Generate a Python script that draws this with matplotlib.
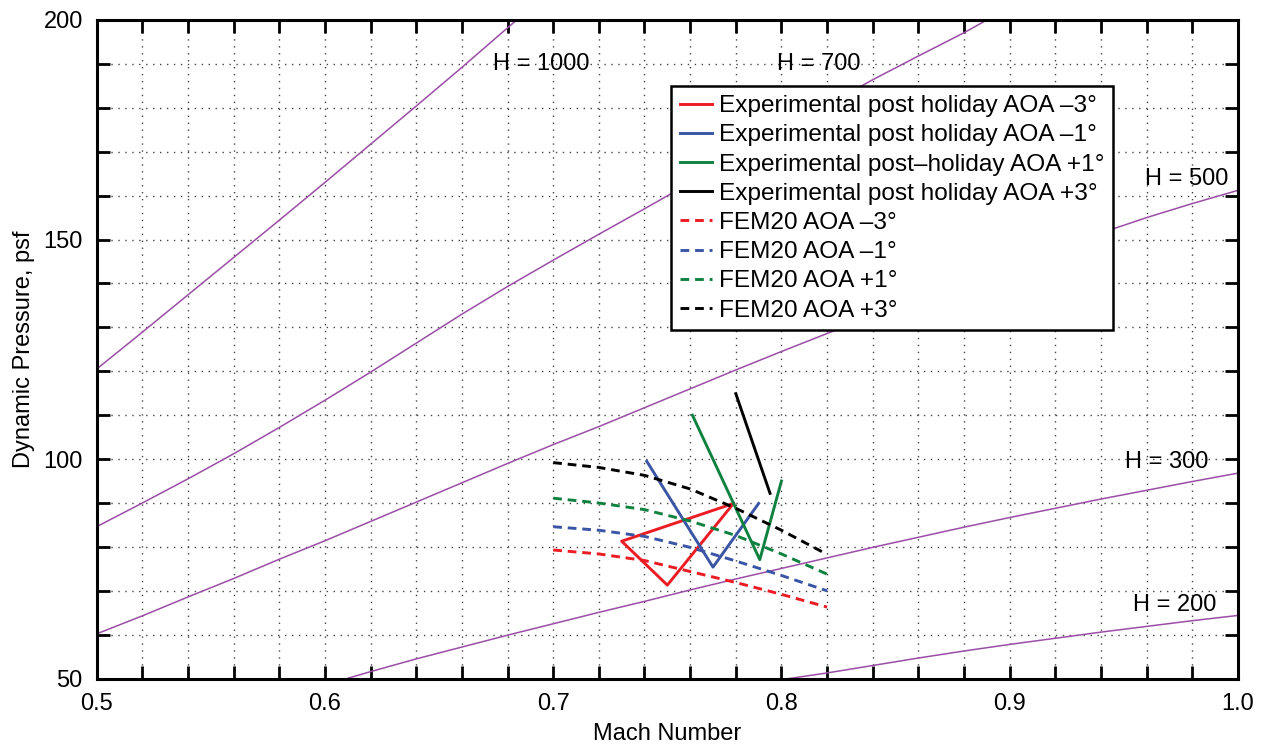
import numpy as np
import matplotlib
matplotlib.use("Agg")
import matplotlib.pyplot as plt

plt.rcParams['font.family'] = ['Liberation Sans', 'DejaVu Sans']

# constant-H reference lines (Mach, q)
h1000_m = [0.50, 0.52, 0.54, 0.56, 0.58, 0.60, 0.62, 0.64, 0.66, 0.68, 0.684]
h1000_q = [120.5, 128.9, 137.4, 145.9, 154.4, 163.0, 171.7, 180.4, 189.2, 198.2, 200.0]

h700_m = [0.50, 0.52, 0.54, 0.56, 0.58, 0.60, 0.62, 0.64, 0.66, 0.68, 0.70,
          0.72, 0.74, 0.76, 0.78, 0.80, 0.82, 0.84, 0.86, 0.88, 0.89]
h700_q = [84.6, 90.0, 95.5, 101.2, 107.2, 113.4, 119.8, 126.4, 133.0, 139.3, 145.3,
          151.2, 157.0, 162.9, 168.8, 174.7, 180.6, 186.4, 191.8, 197.1, 200.0]

h500_m = [0.50, 0.52, 0.54, 0.56, 0.58, 0.60, 0.62, 0.64, 0.66, 0.68, 0.70, 0.72, 0.74,
          0.76, 0.78, 0.80, 0.82, 0.84, 0.86, 0.88, 0.90, 0.92, 0.94, 0.96, 0.98, 1.00]
h500_q = [60.2, 64.3, 68.6, 72.8, 77.2, 81.4, 85.8, 90.2, 94.6, 99.0, 103.3, 107.4, 111.7,
          116.0, 120.3, 124.5, 128.6, 132.6, 136.5, 140.4, 144.2, 147.9, 151.5, 155.0, 158.2, 161.2]

h300_m = [0.6095, 0.62, 0.64, 0.66, 0.68, 0.70, 0.72, 0.74, 0.76, 0.78, 0.80,
          0.82, 0.84, 0.86, 0.88, 0.90, 0.92, 0.94, 0.96, 0.98, 1.00]
h300_q = [50.0, 51.6, 54.5, 57.2, 59.9, 62.5, 65.1, 67.6, 70.2, 72.7, 75.1,
          77.5, 79.9, 82.2, 84.5, 86.7, 88.8, 90.9, 92.9, 94.9, 96.8]

h200_m = [0.803, 0.82, 0.84, 0.86, 0.88, 0.90, 0.92, 0.94, 0.96, 0.98, 1.00]
h200_q = [50.0, 51.3, 53.0, 54.7, 56.3, 57.8, 59.2, 60.6, 61.9, 63.2, 64.4]

h_labels = ['H = 1000', 'H = 700', 'H = 500', 'H = 300', 'H = 200']
h_label_m = [0.6736, 0.7979, 0.9592, 0.9505, 0.9541]
h_label_q = [188.6, 188.6, 162.4, 97.9, 65.4]

# experimental data
exp_m3_m = [0.779, 0.730, 0.750, 0.779]
exp_m3_q = [89.9, 81.3, 71.3, 89.9]
exp_m1_m = [0.741, 0.770, 0.790]
exp_m1_q = [99.5, 75.4, 89.9]
exp_p1_m = [0.761, 0.7905, 0.800]
exp_p1_q = [110.0, 77.1, 95.0]
exp_p3_m = [0.780, 0.795]
exp_p3_q = [114.9, 92.2]

# FEM20 predictions
fem_m = [0.70, 0.72, 0.74, 0.76, 0.78, 0.80, 0.82]
fem_m3_q = [79.3, 78.4, 76.9, 74.4, 71.9, 69.2, 66.3]
fem_m1_q = [84.6, 83.8, 82.4, 79.9, 76.8, 73.5, 70.0]
fem_p1_q = [91.1, 90.0, 88.5, 85.9, 82.6, 78.4, 73.8]
fem_p3_q = [99.2, 98.1, 96.3, 93.2, 88.8, 83.8, 78.3]

x_major = [0.5, 0.6, 0.7, 0.8, 0.9, 1.0]
x_labels = ['0.5', '0.6', '0.7', '0.8', '0.9', '1.0']
y_major = [50, 100, 150, 200]

red = '#ec1c24'
blue = '#3a55a5'
green = '#108240'
purple = '#9a4ea6'

fig = plt.figure(figsize=(12.7, 7.48), dpi=100)
ax = fig.add_axes([0.0761, 0.0927, 0.8987, 0.8806])

for m, q in [(h1000_m, h1000_q), (h700_m, h700_q), (h500_m, h500_q),
             (h300_m, h300_q), (h200_m, h200_q)]:
    ax.plot(m, q, color=purple, lw=1.1, zorder=2)

for txt, m, q in zip(h_labels, h_label_m, h_label_q):
    ax.text(m, q, txt, fontsize=17, ha='left', va='baseline', zorder=3)

lw = 2.1
ax.plot(exp_m3_m, exp_m3_q, color=red, lw=lw, label='Experimental post holiday AOA \u20133\u00b0')
ax.plot(exp_m1_m, exp_m1_q, color=blue, lw=lw, label='Experimental post holiday AOA \u20131\u00b0')
ax.plot(exp_p1_m, exp_p1_q, color=green, lw=lw, label='Experimental post\u2013holiday AOA +1\u00b0')
ax.plot(exp_p3_m, exp_p3_q, color='black', lw=lw, label='Experimental post holiday AOA +3\u00b0')

dash = (0, (3.0, 2.0))
ax.plot(fem_m, fem_m3_q, color=red, lw=lw, ls=dash, label='FEM20 AOA \u20133\u00b0')
ax.plot(fem_m, fem_m1_q, color=blue, lw=lw, ls=dash, label='FEM20 AOA \u20131\u00b0')
ax.plot(fem_m, fem_p1_q, color=green, lw=lw, ls=dash, label='FEM20 AOA +1\u00b0')
ax.plot(fem_m, fem_p3_q, color='black', lw=lw, ls=dash, label='FEM20 AOA +3\u00b0')

ax.set_xlim(0.5, 1.0)
ax.set_ylim(50, 200)
ax.set_xticks(x_major)
ax.set_xticklabels(x_labels)
ax.set_xticks(np.arange(0.5, 1.001, 0.02), minor=True)
ax.set_yticks(y_major)
ax.set_yticks(np.arange(50, 201, 10), minor=True)
ax.tick_params(which='both', direction='in', length=9.5, width=2, top=True, right=True,
               labelsize=17, pad=10)
ax.grid(which='both', ls=(0, (1, 4)), color='#444444', lw=1.0, zorder=1)
for sp in ax.spines.values():
    sp.set_linewidth(2.2)

ax.set_xlabel('Mach Number', fontsize=17, labelpad=6)
ax.set_ylabel('Dynamic Pressure, psf', fontsize=17, labelpad=6)

leg = ax.legend(loc='upper left', bbox_to_anchor=(0.5036, 0.899), borderaxespad=0,
                fontsize=17.6, fancybox=False, edgecolor='black', framealpha=1,
                handlelength=1.3, handletextpad=0.3, labelspacing=0.29, borderpad=0.35)
leg.get_frame().set_linewidth(1.8)

fig.savefig('out.png', dpi=100)
